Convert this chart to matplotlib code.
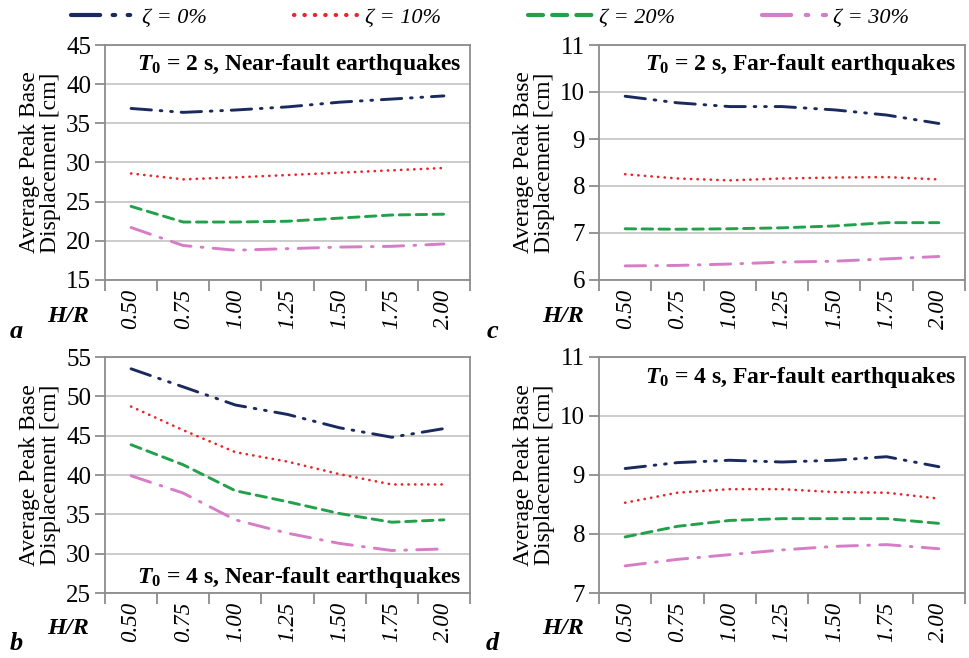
import numpy as np
import matplotlib
matplotlib.use("Agg")
import matplotlib.pyplot as plt
from matplotlib.lines import Line2D

plt.rcParams['font.family'] = ['Liberation Serif', 'DejaVu Serif']
plt.rcParams['mathtext.fontset'] = 'custom'
plt.rcParams['mathtext.it'] = 'Liberation Serif:italic:bold'
plt.rcParams['mathtext.rm'] = 'Liberation Serif:bold'

# data
hr_labels = ["0.50", "0.75", "1.00", "1.25", "1.50", "1.75", "2.00"]
zeta_labels = ["ζ = 0%", "ζ = 10%", "ζ = 20%", "ζ = 30%"]

# a: T0 = 2 s, near-fault
a_z0 = [36.9, 36.4, 36.7, 37.1, 37.7, 38.1, 38.5]
a_z10 = [28.6, 27.85, 28.1, 28.4, 28.7, 29.0, 29.3]
a_z20 = [24.4, 22.4, 22.4, 22.5, 22.9, 23.3, 23.4]
a_z30 = [21.7, 19.4, 18.8, 19.0, 19.2, 19.3, 19.6]

# b: T0 = 4 s, near-fault
b_z0 = [53.5, 51.2, 48.9, 47.7, 46.0, 44.8, 45.9]
b_z10 = [48.7, 45.7, 42.9, 41.7, 40.1, 38.8, 38.8]
b_z20 = [43.85, 41.3, 38.0, 36.6, 35.1, 34.0, 34.3]
b_z30 = [39.9, 37.7, 34.3, 32.6, 31.3, 30.4, 30.6]

# c: T0 = 2 s, far-fault
c_z0 = [9.91, 9.77, 9.69, 9.69, 9.62, 9.51, 9.33]
c_z10 = [8.25, 8.16, 8.12, 8.16, 8.18, 8.19, 8.14]
c_z20 = [7.09, 7.08, 7.09, 7.11, 7.15, 7.22, 7.22]
c_z30 = [6.30, 6.31, 6.34, 6.38, 6.40, 6.45, 6.50]

# d: T0 = 4 s, far-fault
d_z0 = [9.11, 9.21, 9.25, 9.22, 9.25, 9.31, 9.14]
d_z10 = [8.53, 8.70, 8.76, 8.76, 8.71, 8.70, 8.60]
d_z20 = [7.95, 8.13, 8.23, 8.26, 8.26, 8.26, 8.18]
d_z30 = [7.46, 7.57, 7.65, 7.73, 7.79, 7.82, 7.75]

colors = ['#1b2a5e', '#e8252b', '#23a04b', '#d77cc6']
styles = [(0, (7, 3, 0.6, 3, 0.6, 3)), (0, (0.1, 2.4)), (0, (3.6, 2.2)), (0, (7, 3.5, 0.6, 3.5))]
widths = [2.1, 1.9, 2.1, 2.1]

W, H = 969, 658
fig = plt.figure(figsize=(W / 100, H / 100), dpi=100)


def box(l, t, r, b):
    return [l / W, 1 - b / H, (r - l) / W, (b - t) / H]


panels = [
    (box(105, 45, 470, 280), [a_z0, a_z10, a_z20, a_z30], (15, 45), 5,
     r"$T_0$ = 2 s, Near-fault earthquakes", 'top', 'a', (68, 317), (16, 332)),
    (box(599, 45, 965, 280), [c_z0, c_z10, c_z20, c_z30], (6, 11), 1,
     r"$T_0$ = 2 s, Far-fault earthquakes", 'top', 'c', (563, 317), (492, 332)),
    (box(105, 357, 470, 593), [b_z0, b_z10, b_z20, b_z30], (25, 55), 5,
     r"$T_0$ = 4 s, Near-fault earthquakes", 'bottom', 'b', (68, 628), (16, 643)),
    (box(599, 357, 965, 593), [d_z0, d_z10, d_z20, d_z30], (7, 11), 1,
     r"$T_0$ = 4 s, Far-fault earthquakes", 'top', 'd', (563, 628), (492, 643)),
]

x = np.arange(len(hr_labels))
for rect, series, ylim, step, title, tpos, letter, hrxy, letxy in panels:
    ax = fig.add_axes(rect)
    for s, c, ls, lw in zip(series, colors, styles, widths):
        ax.plot(x, s, color=c, linestyle=ls, lw=lw, dash_capstyle='round')
    ax.set_xlim(-0.5, len(x) - 0.5)
    ax.set_ylim(*ylim)
    ax.set_yticks(np.arange(ylim[0], ylim[1] + 0.01, step))
    ax.yaxis.grid(True, color='#c8c8c8', lw=1.3)
    ax.set_axisbelow(True)
    ax.set_xticks(np.arange(-0.5, len(x), 1.0))
    ax.set_xticklabels([])
    ax.set_xticks(x, minor=True)
    ax.set_xticklabels(hr_labels, minor=True, rotation=90, style='italic', fontsize=16.5)
    ax.tick_params(axis='x', which='major', length=8, width=1.3, color='#8c8c8c')
    ax.tick_params(axis='x', which='minor', length=0, pad=6)
    ax.tick_params(axis='y', length=7, width=1.3, color='#8c8c8c', labelsize=18, pad=3)
    for sp in ax.spines.values():
        sp.set_color('#8c8c8c')
        sp.set_linewidth(1.3)
    ax.set_ylabel("Average Peak Base\nDisplacement [cm]", fontsize=17, linespacing=0.95, labelpad=4)
    ty = 0.915 if tpos == 'top' else 0.065
    ax.text(0.975, ty, title.replace('T_0', r'T_\mathit{0}'), transform=ax.transAxes,
            ha='right', va='center', fontsize=17, fontweight='bold')
    fig.text(hrxy[0] / W, 1 - hrxy[1] / H, "H/R", ha='center', va='center',
             fontsize=17.5, fontweight='bold', style='italic')
    fig.text(letxy[0] / W, 1 - letxy[1] / H, letter, ha='center', va='center',
             fontsize=19, fontweight='bold', style='italic')

handles = [Line2D([], [], color=c, linestyle=ls, lw=3, dash_capstyle='round')
           for c, ls in zip(colors, styles)]
fig.legend(handles, zeta_labels, loc='center', bbox_to_anchor=(490 / W, 1 - 18 / H), ncol=4,
           frameon=False, prop={'style': 'italic', 'size': 16}, handlelength=2.9,
           handletextpad=0.3, columnspacing=3.9, borderaxespad=0)

fig.savefig("out.png", dpi=100)
